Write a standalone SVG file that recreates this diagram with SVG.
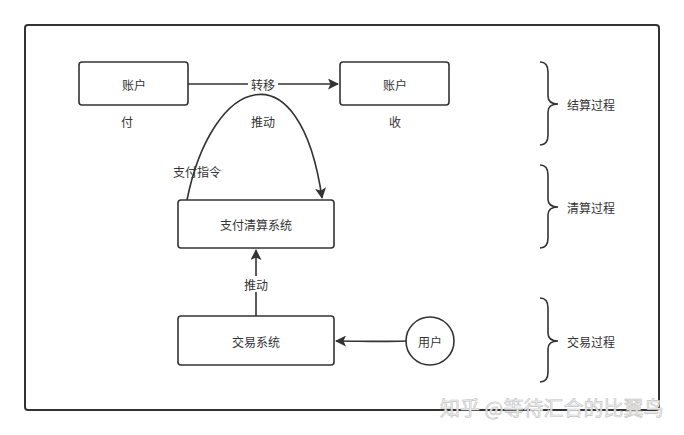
<svg xmlns="http://www.w3.org/2000/svg" width="684" height="435" viewBox="0 0 684 435">
<style>
.box{fill:#fff;stroke:#333;stroke-width:1.6}
.t{font-family:"Noto Sans CJK SC","Noto Sans",sans-serif;font-size:12px;fill:#333;text-anchor:middle;dominant-baseline:central}
.tl{font-family:"Noto Sans CJK SC","Noto Sans",sans-serif;font-size:12px;fill:#333;dominant-baseline:central}
.ln{fill:none;stroke:#333;stroke-width:1.6}
.wm{font-family:"Noto Sans CJK SC",sans-serif;font-size:20px;fill:#f2f2f2;stroke:#c4c4c4;stroke-width:0.6;dominant-baseline:central}
</style>
<defs>
<marker id="ah" markerWidth="11" markerHeight="11" refX="10" refY="5.5" orient="auto" markerUnits="userSpaceOnUse">
<path d="M0,0 L11,5.5 L0,11 L2.5,5.5 Z" fill="#333"/>
</marker>
</defs>
<rect width="684" height="435" fill="#fff"/>
<rect id="frame" x="25" y="25" width="634" height="385" rx="3" fill="none" stroke="#333" stroke-width="2"/>
<g id="connectors">
<path class="ln" d="M188,84 L338,84" marker-end="url(#ah)"/>
<rect x="248" y="76" width="30" height="16" fill="#fff"/>
<text class="t" x="263" y="84">转移</text>
<path class="ln" d="M187,200 C212,75 300,45 322,198" marker-end="url(#ah)"/>
<path class="ln" d="M256,316 L256,250" marker-end="url(#ah)"/>
<rect x="241" y="276" width="30" height="16" fill="#fff"/>
<text class="t" x="256" y="284">推动</text>
<path class="ln" d="M406,341 C380,342 360,341 336,341" marker-end="url(#ah)"/>
</g>
<g id="acc-pay"><rect class="box" x="79" y="62" width="109" height="43" rx="3"/><text class="t" x="134" y="84">账户</text></g>
<g id="acc-recv"><rect class="box" x="340" y="62" width="109" height="43" rx="3"/><text class="t" x="395" y="84">账户</text></g>
<text class="t" x="127" y="121">付</text>
<text class="t" x="395" y="121">收</text>
<text class="t" x="263" y="121">推动</text>
<text class="t" x="197" y="171">支付指令</text>
<g id="clearing"><rect class="box" x="178" y="200" width="156" height="48" rx="3"/><text class="t" x="256" y="224">支付清算系统</text></g>
<g id="trade"><rect class="box" x="178" y="316" width="156" height="49" rx="3"/><text class="t" x="256" y="341">交易系统</text></g>
<g id="user"><circle class="box" cx="430" cy="341" r="24"/><text class="t" x="430" y="341">用户</text></g>
<g id="braces">
<path class="ln" d="M540,62 Q548,62 548,72 L548,96 Q548,104 558,104 Q548,104 548,112 L548,135 Q548,145 540,145"/>
<text class="tl" x="567" y="104">结算过程</text>
<path class="ln" d="M540,165 Q548,165 548,175 L548,199 Q548,207 558,207 Q548,207 548,215 L548,238 Q548,248 540,248"/>
<text class="tl" x="567" y="207">清算过程</text>
<path class="ln" d="M540,298 Q548,298 548,308 L548,333 Q548,341 558,341 Q548,341 548,349 L548,372 Q548,382 540,382"/>
<text class="tl" x="567" y="341">交易过程</text>
</g>
<text class="wm" x="440" y="407">知乎 @等待汇合的比翼鸟</text>
</svg>
